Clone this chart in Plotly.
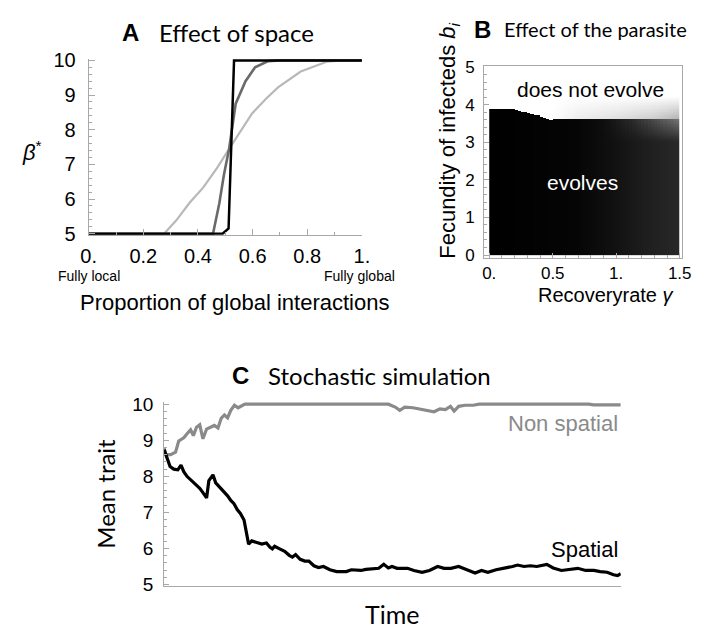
import numpy as np
import plotly.graph_objects as go

W, H = 701, 633

# ---------------- Panel A data ----------------
a_black_x = [0.0, 0.49, 0.512, 0.532, 1.0]
a_black_y = [5.0, 5.0, 5.15, 10.0, 10.0]
a_dark_x = [0.0, 0.455, 0.478, 0.495, 0.514, 0.538, 0.574, 0.609, 0.657, 0.70, 1.0]
a_dark_y = [5.0, 5.0, 5.87, 6.7, 7.45, 8.75, 9.4, 9.8, 9.98, 10.0, 10.0]
a_light_x = [0.0, 0.276, 0.32, 0.37, 0.419, 0.47, 0.514, 0.56, 0.598, 0.65, 0.693, 0.776, 0.871, 0.93, 1.0]
a_light_y = [5.0, 5.0, 5.38, 5.9, 6.33, 6.9, 7.45, 8.0, 8.47, 8.9, 9.22, 9.68, 9.96, 10.0, 10.0]
a_xticks = [0, 0.2, 0.4, 0.6, 0.8, 1.0]
a_xlabels = ["0.", "0.2", "0.4", "0.6", "0.8", "1."]
a_yticks = [5, 6, 7, 8, 9, 10]

# ---------------- Panel B data ----------------
b_bound_x = [0.0, 0.15, 0.2, 0.25, 0.3, 0.35, 0.4, 0.45, 0.48, 0.5, 1.5]
b_bound_h = [3.9, 3.9, 3.87, 3.84, 3.8, 3.75, 3.7, 3.64, 3.58, 3.62, 3.62]
b_shade_x = [0.0, 0.7, 1.0, 1.25, 1.5]
b_shade_v = [0.0, 0.02, 0.07, 0.12, 0.16]
b_glow_x = [0.0, 0.9, 1.15, 1.35, 1.5]
b_glow_v = [0.0, 0.0, 0.08, 0.2, 0.3]
b_haze_x = [0.0, 0.5, 0.7, 1.0, 1.3, 1.5]
b_haze_v = [1.0, 1.0, 0.93, 0.88, 0.8, 0.7]
b_xticks = [0, 0.5, 1.0, 1.5]
b_xlabels = ["0.", "0.5", "1.", "1.5"]
b_yticks = [0, 1, 2, 3, 4, 5]

# ---------------- Panel C data ----------------
c_ns_t = [0, 0.36, 1.43, 2.5, 3.2, 4.3, 5.3, 5.8, 6.4, 7.1, 7.8, 8.5, 9.3, 10.1, 11.0, 11.8,
          12.5, 13.2, 13.9, 14.6, 15.4, 16.2, 16.9, 17.7, 49.1, 50.6, 51.6, 52.7, 54.5, 55.9,
          57.3, 59.1, 60.4, 61.6, 62.7, 63.5, 64.5, 65.9, 67.7, 69.0, 93.0, 94.0, 96.6, 98.3, 100]
c_ns_v = [8.78, 8.6, 8.6, 8.67, 8.98, 9.07, 9.22, 9.29, 9.13, 9.36, 9.43, 9.04, 9.31, 9.36, 9.41, 9.34,
          9.61, 9.70, 9.62, 9.83, 9.97, 9.9, 9.94, 10.0, 10.0, 9.92, 9.83, 9.92, 9.9, 9.87,
          9.85, 9.79, 9.87, 9.85, 9.94, 9.81, 9.94, 9.97, 9.97, 10.0, 10.0, 9.98, 9.98, 9.97, 9.98]
c_sp_t = [0, 0.7, 1.3, 2.1, 3.0, 3.7, 4.3, 5.0, 5.8, 6.8, 7.8, 8.5, 9.3, 9.8, 10.7, 11.3, 12.0,
          13.0, 13.9, 14.6, 15.3, 16.0, 16.7, 17.5, 17.9, 18.5, 19.2, 20.3, 21.4, 22.4, 23.2, 23.7,
          24.2, 25.3, 26.4, 27.4, 28.1, 28.8, 29.8, 30.8, 31.7, 32.8, 33.8, 34.9, 36.3, 37.8, 39.9,
          41.0, 42.1, 43.1, 44.2, 45.6, 47.0, 48.1, 49.1, 49.9, 51.0, 53.3, 54.7, 56.5, 58.1, 59.9,
          61.3, 62.8, 64.5, 66.3, 68.1, 69.5, 70.9, 72.7, 74.5, 76.3, 77.4, 78.8, 80.2, 81.6, 83.8,
          85.2, 87.0, 88.8, 90.6, 92.3, 94.1, 95.5, 97.0, 98.4, 99.3, 100]
c_sp_v = [8.74, 8.45, 8.27, 8.2, 8.18, 8.31, 8.13, 8.0, 7.91, 7.79, 7.67, 7.55, 7.4, 7.88, 8.04, 7.82, 7.73,
          7.6, 7.46, 7.33, 7.24, 7.08, 6.97, 6.79, 6.52, 6.12, 6.21, 6.17, 6.12, 6.15, 6.03, 5.99,
          6.06, 5.99, 5.92, 5.81, 5.76, 5.83, 5.70, 5.65, 5.65, 5.52, 5.47, 5.5, 5.41, 5.36, 5.36,
          5.41, 5.41, 5.39, 5.42, 5.43, 5.45, 5.56, 5.46, 5.5, 5.45, 5.45, 5.39, 5.34, 5.39, 5.5,
          5.45, 5.45, 5.5, 5.41, 5.32, 5.39, 5.34, 5.41, 5.45, 5.5, 5.54, 5.5, 5.52, 5.5, 5.56,
          5.46, 5.39, 5.41, 5.45, 5.39, 5.39, 5.36, 5.34, 5.27, 5.25, 5.3]
c_yticks = [5, 6, 7, 8, 9, 10]

# ---------------- build heatmap grid for B ----------------
nx, ny = 60, 250
gx = (np.arange(nx) + 0.5) * 1.5 / nx
gy = (np.arange(ny) + 0.5) * 5.0 / ny
bound = np.interp(gx, b_bound_x, b_bound_h)
shade = np.interp(gx, b_shade_x, b_shade_v)
glow = np.interp(gx, b_glow_x, b_glow_v)
haze = np.interp(gx, b_haze_x, b_haze_v)
X, Y = np.meshgrid(gx, gy)
Bd = bound[None, :]
below = Y < Bd
dist_below = np.clip((Bd - Y) / 0.6, 0, 1)
dist_above = np.clip((Y - Bd) / 0.6, 0, 1)
z_below = shade[None, :] + glow[None, :] * (1 - dist_below)
z_above = haze[None, :] + (1 - haze[None, :]) * dist_above
Z = np.where(below, z_below, z_above)


def px(x):
    return x / W


def py(y):
    return 1 - y / H


fig = go.Figure()

# Panel A
fig.add_trace(go.Scatter(x=a_light_x, y=a_light_y, mode="lines", line=dict(color="#b8b8b8", width=2.2),
                         xaxis="x", yaxis="y", hoverinfo="skip"))
fig.add_trace(go.Scatter(x=a_dark_x, y=a_dark_y, mode="lines", line=dict(color="#6a6a6a", width=2.6),
                         xaxis="x", yaxis="y", hoverinfo="skip"))
fig.add_trace(go.Scatter(x=a_black_x, y=a_black_y, mode="lines", line=dict(color="#000000", width=2.5),
                         xaxis="x", yaxis="y", hoverinfo="skip"))

# Panel B
fig.add_trace(go.Heatmap(x=gx, y=gy, z=Z, zmin=0, zmax=1, colorscale=[[0, "black"], [1, "white"]],
                         showscale=False, xaxis="x2", yaxis="y2", hoverinfo="skip"))

# Panel C
fig.add_trace(go.Scatter(x=c_ns_t, y=c_ns_v, mode="lines", line=dict(color="#8a8a8a", width=3.2),
                         xaxis="x3", yaxis="y3", hoverinfo="skip"))
fig.add_trace(go.Scatter(x=c_sp_t, y=c_sp_v, mode="lines", line=dict(color="#000000", width=3.2),
                         xaxis="x3", yaxis="y3", hoverinfo="skip"))

ARIAL = "Liberation Sans, Arial, sans-serif"
TITLE = "Lato, sans-serif"
AX = "#a8a8a8"

fig.update_layout(
    width=W, height=H, margin=dict(l=0, r=0, t=0, b=0),
    paper_bgcolor="white", plot_bgcolor="white", showlegend=False,
    font=dict(family=ARIAL, color="black"),
    xaxis=dict(domain=[px(82.7), px(362.7)], range=[0, 1], anchor="y",
               showline=True, linecolor=AX, linewidth=1, showgrid=False, zeroline=False,
               tickmode="array", tickvals=a_xticks, ticktext=a_xlabels,
               ticks="inside", ticklen=6, tickcolor=AX, tickfont=dict(size=20, family=ARIAL),
               minor=dict(dtick=0.1, ticks="inside", ticklen=3, tickcolor=AX), ticklabelstandoff=3),
    yaxis=dict(domain=[py(232.1), py(50.6)], range=[4.97, 10.04], anchor="x",
               showline=True, linecolor=AX, linewidth=1, showgrid=False, zeroline=False,
               tickmode="array", tickvals=a_yticks,
               ticks="inside", ticklen=6, tickcolor=AX, tickfont=dict(size=20, family=ARIAL),
               minor=dict(dtick=0.2, ticks="inside", ticklen=3, tickcolor=AX), ticklabelstandoff=8),
    xaxis2=dict(domain=[px(488), px(691)], range=[-0.04, 1.52], anchor="y2",
                showline=True, mirror=True, linecolor=AX, linewidth=1, showgrid=False, zeroline=False,
                tickmode="array", tickvals=b_xticks, ticktext=b_xlabels,
                ticks="inside", ticklen=5, tickcolor=AX, tickfont=dict(size=17, family=ARIAL),
                minor=dict(dtick=0.1, ticks="inside", ticklen=3, tickcolor=AX), ticklabelstandoff=0),
    yaxis2=dict(domain=[py(256), py(58)], range=[-0.077, 5.026], anchor="x2",
                showline=True, mirror=True, linecolor=AX, linewidth=1, showgrid=False, zeroline=False,
                tickmode="array", tickvals=b_yticks,
                ticks="inside", ticklen=5, tickcolor=AX, tickfont=dict(size=17, family=ARIAL),
                minor=dict(dtick=0.2, ticks="inside", ticklen=3, tickcolor=AX), ticklabelstandoff=5),
    xaxis3=dict(domain=[px(160), px(628)], range=[0, 100], anchor="y3",
                showline=True, linecolor=AX, linewidth=1, showgrid=False, zeroline=False,
                showticklabels=False, ticks=""),
    yaxis3=dict(domain=[py(594.4), py(404.8)], range=[4.97, 10.06], anchor="x3",
                showline=True, linecolor=AX, linewidth=1, showgrid=False, zeroline=False,
                tickmode="array", tickvals=c_yticks,
                ticks="inside", ticklen=5, tickcolor=AX, tickfont=dict(size=19, family=ARIAL),
                minor=dict(dtick=0.2, ticks="inside", ticklen=3, tickcolor=AX), ticklabelstandoff=6),
)


def txt(x, y, s, size, family=ARIAL, color="black", xanchor="center", angle=0):
    fig.add_annotation(x=px(x), y=py(y), xref="paper", yref="paper", text=s, showarrow=False,
                       xanchor=xanchor, yanchor="middle", textangle=angle,
                       font=dict(size=size, family=family, color=color))


# Titles (bold panel letter + title text)
txt(126, 23, "<b>A</b>", 24)
txt(153, 23, "Effect of space", 24, family=TITLE, xanchor="left")
txt(486, 20, "<b>B</b>", 24)
txt(506, 20, "Effect of the parasite", 20, family=TITLE, xanchor="left")
txt(238, 377, "<b>C</b>", 24)
txt(264, 377, "Stochastic simulation", 24, family=TITLE, xanchor="left")

# Panel A labels
txt(25, 146, "<i>β</i><sup>*</sup>", 22)
txt(83, 275, "Fully local", 14)
txt(360, 275, "Fully global", 14)
txt(232, 302, "Proportion of global interactions", 22)

# Panel B labels
txt(452, 135, "Fecundity of infecteds <i>b<sub>i</sub></i>", 22, angle=-90)
txt(613, 294, "Recoveryrate <i>γ</i>", 20)
txt(597, 82, "does not evolve", 21)
txt(589, 178, "evolves", 21, color="white")

# Panel C labels
txt(100, 500, "Mean trait", 24, family=TITLE, angle=-90)
txt(394, 624, "Time", 25, family=TITLE)
txt(627, 427, "Non spatial", 22, color="#8a8a8a", xanchor="right")
txt(627, 557, "Spatial", 22, xanchor="right")

fig.write_html("out.html", config={"displayModeBar": False},
               post_script="document.body.style.margin='0px';document.body.style.overflow='hidden';")
